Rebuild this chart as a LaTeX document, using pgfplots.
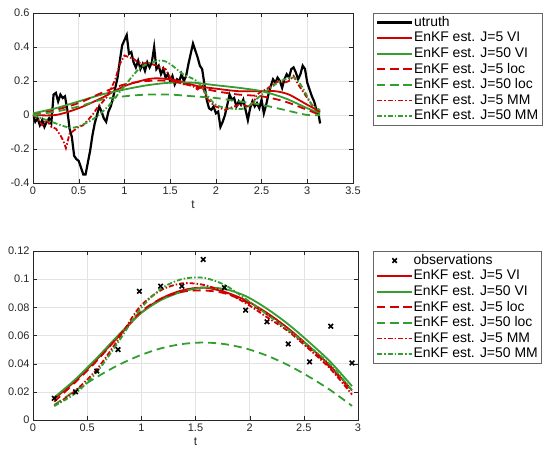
\documentclass[border=0pt]{standalone}
\usepackage{fontspec}
\setmainfont{Liberation Sans}
\usepackage{pgfplots}
\pgfplotsset{compat=1.18}
\definecolor{mred}{RGB}{208,0,0}
\definecolor{mgreen}{RGB}{52,158,48}
\definecolor{axgray}{RGB}{38,38,38}

\pgfplotsset{
  matlab/.style={
    scale only axis,
    axis line style={axgray},
    tick style={axgray},
    tick align=inside, tick pos=both,
    major tick length=4bp,
    grid=major, grid style={black!11, line width=0.6bp},
    ticklabel style={font=\fontsize{11}{13}\selectfont, text=axgray},
    /pgf/number format/assume math mode=true,
    xlabel style={font=\fontsize{12}{14}\selectfont, text=axgray},
    legend cell align=left,
    legend style={at={(1,1)}, anchor=north west,
      draw=black!60, fill=white, inner xsep=3bp, inner ysep=2bp,
      font=\fontsize{14}{15}\selectfont, row sep=0.9bp,
      nodes={inner sep=0.6bp, text height=10.5bp, text depth=3bp}},
    legend image code/.code={\draw[##1] plot coordinates {(0bp,0bp) (35bp,0bp)};},
  },
  obs/.style={only marks, mark=x, mark size=3.2bp, black, line width=1.6bp,
    legend image code/.code={\draw[##1] plot coordinates {(17.5bp,0bp)};}},
}
\tikzset{
  VIr/.style={draw=mred, line width=1.8bp},
  VIg/.style={draw=mgreen, line width=1.8bp},
  locr/.style={draw=mred, dash pattern=on 8bp off 5bp, line width=1.8bp},
  locg/.style={draw=mgreen, dash pattern=on 8bp off 5bp, line width=1.8bp},
  MMr/.style={draw=mred, dash pattern=on 5bp off 2bp on 1.5bp off 2bp, line width=1.8bp},
  MMg/.style={draw=mgreen, dash pattern=on 5bp off 2bp on 1.5bp off 2bp, line width=1.8bp},
}

\begin{document}
\begin{tikzpicture}
\useasboundingbox (0,0) rectangle (547bp,450bp);

% upper panel: truth and estimates
\begin{axis}[matlab,
  at={(33bp,267bp)}, anchor=south west,
  width=320bp, height=170bp,
  xmin=0, xmax=3.5, ymin=-0.4, ymax=0.6,
  xtick={0,0.5,...,3.5}, ytick={-0.4,-0.2,0,0.2,0.4,0.6},
  xlabel={t},
  legend style={xshift=20bp},
]
\addplot[black, line width=2.2bp] coordinates {
(0.000,0.00) (0.025,-0.04) (0.050,-0.02) (0.075,-0.06) (0.100,-0.03)
(0.125,-0.07) (0.150,-0.04) (0.175,-0.02) (0.200,-0.05) (0.225,0.12)
(0.250,0.13) (0.275,0.08) (0.300,0.12) (0.325,0.10) (0.350,0.11)
(0.375,0.03) (0.400,-0.08) (0.425,-0.13) (0.450,-0.24) (0.475,-0.26)
(0.500,-0.27) (0.525,-0.31) (0.550,-0.35) (0.575,-0.35) (0.600,-0.28)
(0.625,-0.21) (0.650,-0.12) (0.675,-0.05) (0.700,0.00) (0.725,0.05)
(0.750,0.02) (0.775,-0.02) (0.800,-0.04) (0.825,0.02) (0.850,0.05)
(0.875,0.10) (0.900,0.16) (0.925,0.22) (0.950,0.32) (0.975,0.41)
(1.000,0.44) (1.025,0.47) (1.050,0.36) (1.075,0.37) (1.100,0.31)
(1.125,0.28) (1.150,0.32) (1.175,0.27) (1.200,0.30) (1.225,0.26)
(1.250,0.31) (1.275,0.28) (1.300,0.31) (1.325,0.40) (1.350,0.27)
(1.375,0.29) (1.400,0.24) (1.425,0.27) (1.450,0.22) (1.475,0.24)
(1.500,0.20) (1.525,0.23) (1.550,0.18) (1.575,0.21) (1.600,0.20)
(1.625,0.24) (1.650,0.20) (1.675,0.23) (1.700,0.30) (1.725,0.36)
(1.750,0.42) (1.775,0.38) (1.800,0.34) (1.825,0.29) (1.850,0.27)
(1.875,0.18) (1.900,0.09) (1.925,0.04) (1.950,0.03) (1.975,0.05)
(2.000,0.01) (2.025,0.02) (2.050,-0.07) (2.075,-0.04) (2.100,0.00)
(2.125,0.06) (2.150,0.12) (2.175,0.09) (2.200,0.10) (2.225,0.05)
(2.250,0.08) (2.275,0.06) (2.300,0.09) (2.325,0.03) (2.350,-0.03)
(2.375,0.04) (2.400,0.08) (2.425,0.05) (2.450,0.07) (2.475,0.04)
(2.500,0.09) (2.525,0.01) (2.550,0.06) (2.575,0.12) (2.600,0.17)
(2.625,0.21) (2.650,0.19) (2.675,0.22) (2.700,0.20) (2.725,0.16)
(2.750,0.21) (2.775,0.24) (2.800,0.22) (2.825,0.27) (2.850,0.28)
(2.875,0.25) (2.900,0.21) (2.925,0.24) (2.950,0.29) (2.975,0.27)
(3.000,0.19) (3.025,0.15) (3.050,0.11) (3.075,0.08) (3.100,0.03)
(3.125,0.00) (3.140,-0.05)
};
\addlegendentry{utruth}
\addplot[VIr, smooth] coordinates {
(0,0.00) (0.25,0.00) (0.5,0.04) (0.75,0.10) (1.0,0.17) (1.25,0.21) (1.4,0.215)
(1.6,0.20) (1.8,0.17) (2.0,0.155) (2.25,0.14) (2.5,0.14) (2.65,0.14) (2.8,0.12)
(3.0,0.06) (3.14,0.02)
};
\addlegendentry{EnKF est. J=5 VI}
\addplot[VIg, smooth] coordinates {
(0,0.01) (0.25,0.04) (0.5,0.08) (0.75,0.12) (1.0,0.15) (1.25,0.175) (1.5,0.19)
(1.75,0.19) (2.0,0.175) (2.25,0.16) (2.5,0.14) (2.75,0.10) (3.0,0.04) (3.14,0.01)
};
\addlegendentry{EnKF est. J=50 VI}
\addplot[locr, smooth] coordinates {
(0,0.00) (0.25,0.03) (0.5,0.07) (0.75,0.13) (1.0,0.18) (1.25,0.20) (1.5,0.20)
(1.75,0.17) (2.0,0.14) (2.25,0.12) (2.5,0.11) (2.75,0.08) (3.0,0.03) (3.14,0.00)
};
\addlegendentry{EnKF est. J=5 loc}
\addplot[locg, smooth] coordinates {
(0,0.00) (0.25,0.02) (0.5,0.05) (0.75,0.09) (1.0,0.11) (1.25,0.12) (1.5,0.12)
(1.75,0.11) (2.0,0.10) (2.25,0.08) (2.5,0.06) (2.75,0.03) (3.0,0.00) (3.14,0.00)
};
\addlegendentry{EnKF est. J=50 loc}
\addplot[MMr] coordinates {
(0,0.00) (0.05,-0.02) (0.1,-0.06) (0.15,-0.03) (0.2,-0.07) (0.25,-0.08)
(0.3,-0.12) (0.33,-0.15) (0.36,-0.195) (0.4,-0.11) (0.45,-0.09) (0.5,-0.07)
(0.55,-0.06) (0.6,-0.03) (0.65,0.00) (0.7,0.04) (0.75,0.07) (0.8,0.10)
(0.85,0.15) (0.9,0.21) (0.95,0.30) (1.0,0.35) (1.05,0.34) (1.1,0.33)
(1.15,0.31) (1.2,0.30) (1.25,0.31) (1.3,0.30) (1.35,0.29) (1.4,0.28)
(1.45,0.27) (1.5,0.22) (1.55,0.20) (1.6,0.19) (1.65,0.18) (1.7,0.18)
(1.75,0.17) (1.8,0.15) (1.85,0.17) (1.9,0.10) (1.95,0.07) (2.0,0.05)
(2.05,0.04) (2.1,0.03) (2.15,0.04) (2.2,0.05) (2.25,0.06) (2.3,0.06)
(2.35,0.05) (2.4,0.06) (2.45,0.12) (2.5,0.14) (2.55,0.15) (2.6,0.17)
(2.65,0.19) (2.7,0.20) (2.75,0.19) (2.8,0.20) (2.85,0.23) (2.9,0.18)
(2.95,0.14) (3.0,0.10) (3.05,0.06) (3.1,0.03) (3.14,0.02)
};
\addlegendentry{EnKF est. J=5 MM}
\addplot[MMg, smooth] coordinates {
(0,0.00) (0.2,-0.04) (0.43,-0.075) (0.64,-0.03) (0.82,0.05) (1.0,0.17)
(1.18,0.28) (1.39,0.32) (1.5,0.30) (1.64,0.24) (1.79,0.20) (1.9,0.12)
(2.0,0.06) (2.14,0.04) (2.32,0.04) (2.5,0.12) (2.6,0.16) (2.71,0.20)
(2.86,0.22) (2.96,0.15) (3.05,0.06) (3.14,0.03)
};
\addlegendentry{EnKF est. J=50 MM}
\end{axis}

% lower panel: observations and estimates
\begin{axis}[matlab,
  at={(33bp,30bp)}, anchor=south west,
  width=325bp, height=169bp,
  xmin=0, xmax=3, ymin=0, ymax=0.12,
  xtick={0,0.5,...,3}, ytick={0,0.02,...,0.12},
  yticklabel style={/pgf/number format/fixed, /pgf/number format/precision=2},
  scaled y ticks=false,
  xlabel={t},
  legend style={xshift=15bp},
]
\addplot[obs] coordinates {
(0.196,0.0154) (0.393,0.0200) (0.589,0.0347) (0.785,0.0500) (0.982,0.0914)
(1.178,0.0950) (1.374,0.0950) (1.571,0.1140) (1.767,0.0940) (1.963,0.0780)
(2.160,0.0697) (2.356,0.0540) (2.553,0.0413) (2.749,0.0666) (2.945,0.0405)
};
\addlegendentry{observations}
\addplot[VIr, smooth] coordinates {
(0.196,0.015) (0.393,0.028) (0.589,0.043) (0.785,0.059) (0.982,0.075)
(1.178,0.086) (1.374,0.092) (1.571,0.094) (1.767,0.091) (1.963,0.085)
(2.160,0.076) (2.356,0.065) (2.553,0.052) (2.749,0.038) (2.945,0.021)
};
\addlegendentry{EnKF est. J=5 VI}
\addplot[VIg, smooth] coordinates {
(0.196,0.016) (0.393,0.029) (0.589,0.044) (0.785,0.060) (0.982,0.075)
(1.178,0.085) (1.374,0.091) (1.571,0.094) (1.767,0.093) (1.963,0.088)
(2.160,0.079) (2.356,0.068) (2.553,0.055) (2.749,0.041) (2.945,0.024)
};
\addlegendentry{EnKF est. J=50 VI}
\addplot[locr, smooth] coordinates {
(0.196,0.013) (0.393,0.027) (0.589,0.042) (0.785,0.059) (0.982,0.076)
(1.178,0.086) (1.374,0.091) (1.571,0.092) (1.767,0.090) (1.963,0.084)
(2.160,0.075) (2.356,0.064) (2.553,0.051) (2.749,0.037) (2.945,0.020)
};
\addlegendentry{EnKF est. J=5 loc}
\addplot[locg, smooth] coordinates {
(0.196,0.0107) (0.393,0.0210) (0.589,0.0305) (0.785,0.0389) (0.982,0.0457)
(1.178,0.0508) (1.374,0.0539) (1.571,0.0550) (1.767,0.0539) (1.963,0.0508)
(2.160,0.0457) (2.356,0.0389) (2.553,0.0305) (2.749,0.0210) (2.945,0.0100)
};
\addlegendentry{EnKF est. J=50 loc}
\addplot[MMr, smooth] coordinates {
(0.196,0.010) (0.393,0.021) (0.589,0.036) (0.785,0.057) (0.982,0.080)
(1.178,0.092) (1.374,0.097) (1.571,0.096) (1.767,0.091) (1.963,0.083)
(2.160,0.073) (2.356,0.063) (2.553,0.050) (2.749,0.036) (2.945,0.018)
};
\addlegendentry{EnKF est. J=5 MM}
\addplot[MMg, smooth] coordinates {
(0.196,0.010) (0.393,0.019) (0.589,0.034) (0.785,0.055) (0.982,0.078)
(1.178,0.093) (1.374,0.100) (1.571,0.101) (1.767,0.096) (1.963,0.086)
(2.160,0.075) (2.356,0.064) (2.553,0.052) (2.749,0.039) (2.945,0.021)
};
\addlegendentry{EnKF est. J=50 MM}
\end{axis}
\end{tikzpicture}
\end{document}
